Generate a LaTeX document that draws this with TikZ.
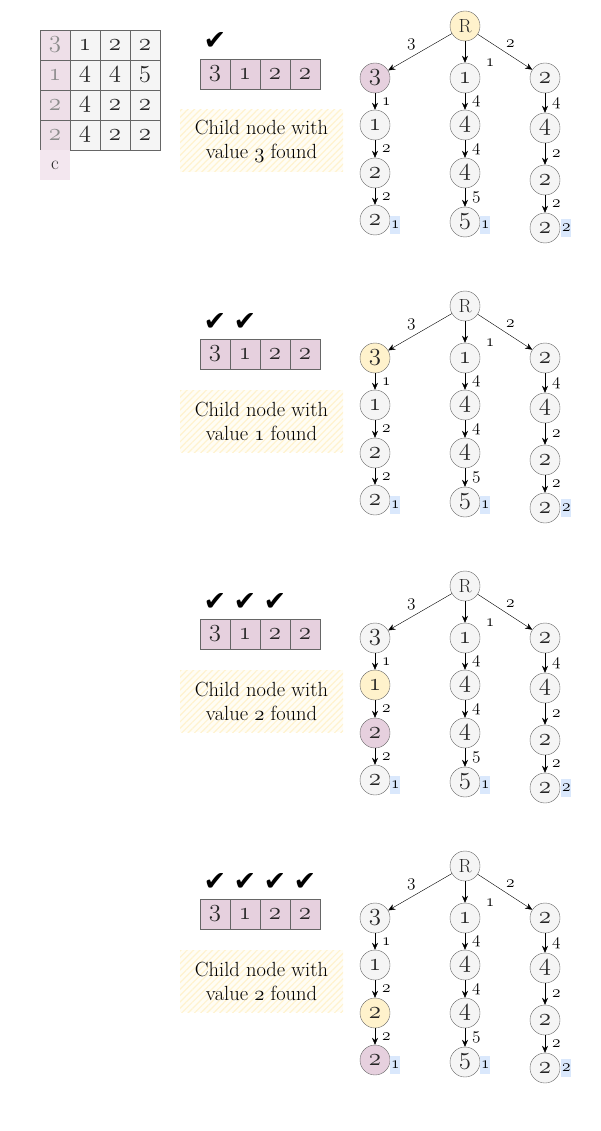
\documentclass[tikz,border=0pt]{standalone}
\usepackage{fontspec}
\usepackage{tikz}
\usetikzlibrary{arrows.meta,positioning,patterns.meta}
\newfontfamily\checkfont{DejaVu Sans}
\definecolor{nodegray}{HTML}{F5F5F5}
\definecolor{nodeline}{HTML}{666666}
\definecolor{hitpink}{HTML}{E6D0DE}
\definecolor{colpink}{HTML}{EEDFE8}
\definecolor{lblpink}{HTML}{F3E7EF}
\definecolor{curyellow}{HTML}{FFF2CC}
\definecolor{hatchyellow}{HTML}{FFF3CF}
\definecolor{cntblue}{HTML}{DAE8FC}
\newcommand{\osn}[1]{{\usefont{OML}{cmm}{m}{it}#1}}

\begin{document}
\begin{tikzpicture}[x=1pt,y=-1pt,
  tnode/.style={circle,draw=nodeline,fill=nodegray,minimum size=30pt,inner sep=0pt,
    font=\fontsize{26}{28}\selectfont,text=black!85},
  cell/.style={draw=nodeline,minimum size=30pt,inner sep=0pt,font=\fontsize{26}{28}\selectfont,text=black!85},
  arr/.style={-{Stealth[length=7pt,width=6pt]},black},
  lbl/.style={font=\fontsize{16}{17}\selectfont,inner sep=1pt},
  cnt/.style={fill=cntblue,minimum width=10pt,minimum height=18pt,inner sep=0pt,font=\fontsize{16}{17}\selectfont},
  notebox/.style={minimum width=163pt,minimum height=62pt,align=center,
    font=\fontsize{20.5}{24}\selectfont,fill=hatchyellow!20,
    postaction={pattern={Lines[angle=45,distance=4.5pt,line width=1.2pt]},pattern color=hatchyellow}},
  tick/.style={font=\checkfont\fontsize{27}{28}\selectfont,inner sep=0pt,anchor=base}]
\useasboundingbox (0,0) rectangle (601,1131);

% matrix of paths
\foreach \i/\va/\vb/\vc/\vd in {0/3/1/2/2,1/1/4/4/5,2/2/4/2/2,3/2/4/2/2}
{
  \node[cell,fill=colpink,text=black!45] (m\i-0) at (55,45+30*\i) {\osn{\va}};
  \node[cell,fill=nodegray] (m\i-1) at (85,45+30*\i) {\osn{\vb}};
  \node[cell,fill=nodegray] (m\i-2) at (115,45+30*\i) {\osn{\vc}};
  \node[cell,fill=nodegray] (m\i-3) at (145,45+30*\i) {\osn{\vd}};
}
\node[cell,draw=none,fill=lblpink,font=\fontsize{19}{20}\selectfont] (mc) at (55,165) {c};

% four steps of the search
\foreach \p/\fr/\fa/\fb/\fc/\fd/\n/\v in {0/curyellow/hitpink/nodegray/nodegray/nodegray/1/3,
  1/nodegray/curyellow/nodegray/nodegray/nodegray/2/1,
  2/nodegray/nodegray/curyellow/hitpink/nodegray/3/2,
  3/nodegray/nodegray/nodegray/curyellow/hitpink/4/2}
{
\begin{scope}[yshift=-280*\p]
  % searched key
  \foreach \k/\kv in {0/3,1/1,2/2,3/2}
    \node[cell,fill=hitpink] (k\k-\p) at (215+30*\k,74) {\osn{\kv}};
  \foreach \k in {1,...,\n}
    \node[tick] (t\k-\p) at (185+30*\k,50) {✔};
  \node[notebox] (note-\p) at (261.5,141) {Child node with\\value \osn{\v} found};

  % trie
  \node[tnode,fill=\fr,font=\fontsize{19}{20}\selectfont] (r-\p) at (465,26) {R};
  \node[tnode,fill=\fa] (a1-\p) at (375,78) {\osn{3}};
  \node[tnode,fill=\fb] (a2-\p) at (375,125) {\osn{1}};
  \node[tnode,fill=\fc] (a3-\p) at (375,173) {\osn{2}};
  \node[tnode,fill=\fd] (a4-\p) at (375,220) {\osn{2}};
  \node[tnode] (b1-\p) at (465,78) {\osn{1}};
  \node[tnode] (b2-\p) at (465,125) {\osn{4}};
  \node[tnode] (b3-\p) at (465,173) {\osn{4}};
  \node[tnode] (b4-\p) at (465,222) {\osn{5}};
  \node[tnode] (c1-\p) at (545,78) {\osn{2}};
  \node[tnode] (c2-\p) at (545,128) {\osn{4}};
  \node[tnode] (c3-\p) at (545,180) {\osn{2}};
  \node[tnode] (c4-\p) at (545,228) {\osn{2}};

  \draw[arr] (r-\p) -- node[lbl,pos=0.55,above left=3pt and 0pt]{\osn{3}} (a1-\p);
  \draw[arr] (r-\p) -- node[lbl,pos=1,xshift=25pt]{\osn{1}} (b1-\p);
  \draw[arr] (r-\p) -- node[lbl,pos=0.5,above right=3pt and 0pt]{\osn{2}} (c1-\p);
  \draw[arr] (a1-\p) -- node[lbl,right=6pt]{\osn{1}} (a2-\p);
  \draw[arr] (a2-\p) -- node[lbl,right=6pt]{\osn{2}} (a3-\p);
  \draw[arr] (a3-\p) -- node[lbl,right=6pt]{\osn{2}} (a4-\p);
  \draw[arr] (b1-\p) -- node[lbl,right=6pt]{\osn{4}} (b2-\p);
  \draw[arr] (b2-\p) -- node[lbl,right=6pt]{\osn{4}} (b3-\p);
  \draw[arr] (b3-\p) -- node[lbl,right=6pt]{\osn{5}} (b4-\p);
  \draw[arr] (c1-\p) -- node[lbl,right=6pt]{\osn{4}} (c2-\p);
  \draw[arr] (c2-\p) -- node[lbl,right=6pt]{\osn{2}} (c3-\p);
  \draw[arr] (c3-\p) -- node[lbl,right=6pt]{\osn{2}} (c4-\p);

  % end counts
  \node[cnt,right=0pt of a4-\p,yshift=-5pt] (na-\p) {\osn{1}};
  \node[cnt,right=0pt of b4-\p,yshift=-3pt] (nb-\p) {\osn{1}};
  \node[cnt,right=1pt of c4-\p] (nc-\p) {\osn{2}};
\end{scope}
}
\end{tikzpicture}
\end{document}
